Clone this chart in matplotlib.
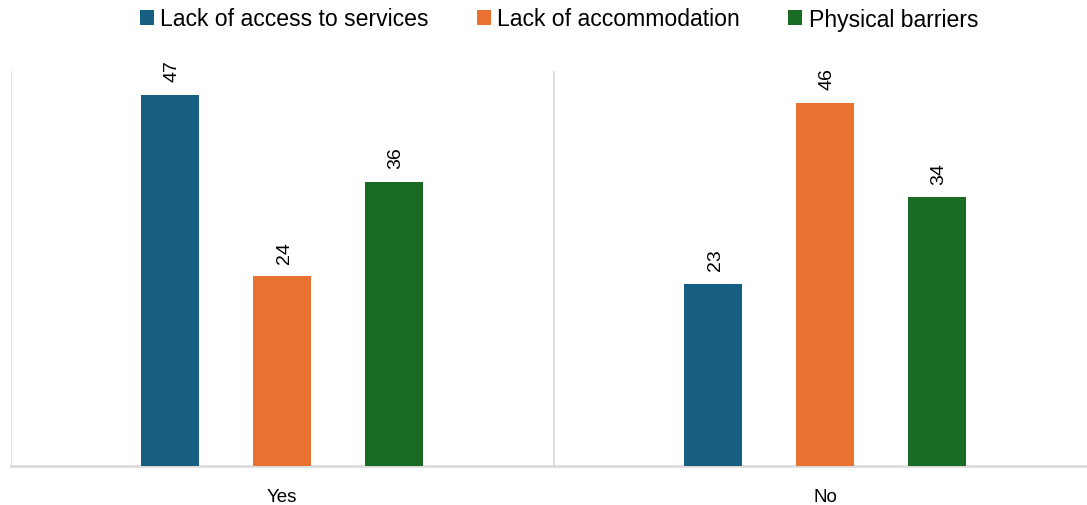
import matplotlib
matplotlib.use("Agg")
import matplotlib.pyplot as plt
from matplotlib.patches import Patch
import numpy as np

categories = ["Yes", "No"]
series_names = ["Lack of access to services", "Lack of accommodation", "Physical barriers"]
access_services = [47, 23]
accommodation = [24, 46]
physical_barriers = [36, 34]
colors = ["#175F82", "#E97132", "#196B24"]

W, H = 1087, 506
fig = plt.figure(figsize=(W / 100, H / 100), dpi=100)
plt.rcParams["font.family"] = ["Liberation Sans", "DejaVu Sans"]

cat_px = 543.0
left_px, bottom_px, top_px = 10.6, 467, 72
ax = fig.add_axes([left_px / W, (H - bottom_px) / H, (W - left_px) / W, (bottom_px - top_px) / H])
ax.set_xlim(-0.5, -0.5 + (W - left_px) / cat_px)
ax.set_ylim(0, 50)

x = np.arange(len(categories))
offsets = [-112 / cat_px, 0, 112 / cat_px]
width = 58 / cat_px
all_series = [access_services, accommodation, physical_barriers]
for vals, off, col in zip(all_series, offsets, colors):
    bars = ax.bar(x + off, vals, width=width, color=col, zorder=3)
    for b, v in zip(bars, vals):
        ax.annotate(str(v), (b.get_x() + b.get_width() / 2, v), xytext=(1.5, 10),
                    textcoords="offset points", rotation=90, ha="center", va="bottom",
                    fontsize=14, color="#000000")

# category separators
for bx in [-0.5, 0.5, 1.5]:
    ax.axvline(bx, color="#d9d9d9", lw=1.2, zorder=1)

for s in ["top", "right", "left"]:
    ax.spines[s].set_visible(False)
ax.spines["bottom"].set_color("#d9d9d9")
ax.spines["bottom"].set_linewidth(1.8)
ax.set_yticks([])
ax.set_xticks(x)
ax.set_xticklabels(categories, fontsize=13.5, color="#000000")
ax.tick_params(axis="x", length=0, pad=15.5)

handles = [Patch(facecolor=c, edgecolor="none") for c in colors]
fig.legend(handles, series_names, loc="center", bbox_to_anchor=(559 / W, 1 - 20 / H),
           ncol=3, frameon=False, fontsize=16.6, handlelength=0.6, handleheight=0.6,
           handletextpad=0.28, columnspacing=2.1)

fig.savefig("out.png", dpi=100)
